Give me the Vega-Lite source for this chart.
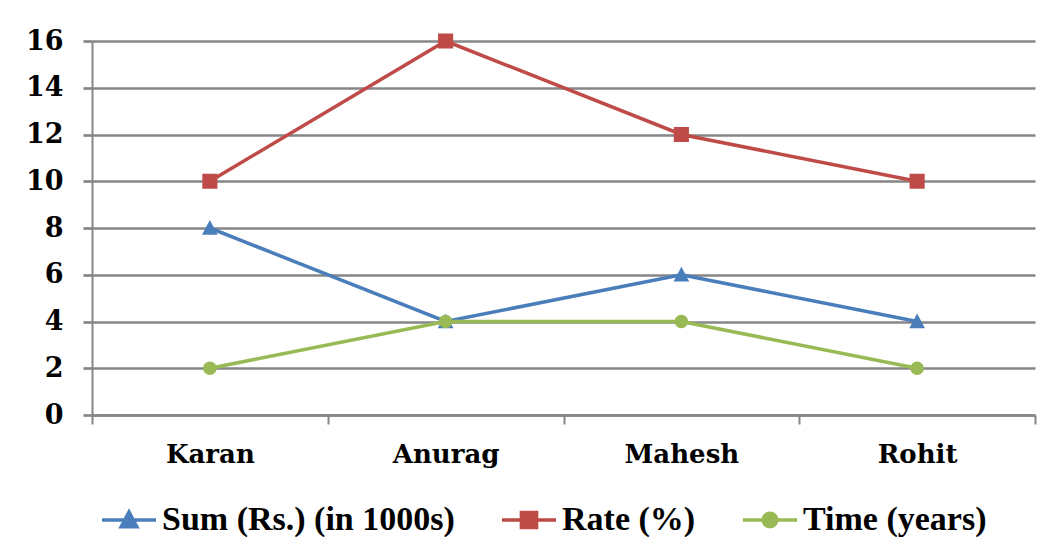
{
  "$schema": "https://vega.github.io/schema/vega-lite/v6.json",
  "width": 943,
  "height": 374,
  "autosize": {"type": "none"},
  "padding": {"left": 92, "top": 41, "right": 15, "bottom": 140},
  "background": "white",
  "config": {"view": {"stroke": null}, "font": "DejaVu Serif"},
  "data": {
    "values": [
      {"name": "Karan", "series": "Sum (Rs.) (in 1000s)", "value": 8},
      {"name": "Anurag", "series": "Sum (Rs.) (in 1000s)", "value": 4},
      {"name": "Mahesh", "series": "Sum (Rs.) (in 1000s)", "value": 6},
      {"name": "Rohit", "series": "Sum (Rs.) (in 1000s)", "value": 4},
      {"name": "Karan", "series": "Rate (%)", "value": 10},
      {"name": "Anurag", "series": "Rate (%)", "value": 16},
      {"name": "Mahesh", "series": "Rate (%)", "value": 12},
      {"name": "Rohit", "series": "Rate (%)", "value": 10},
      {"name": "Karan", "series": "Time (years)", "value": 2},
      {"name": "Anurag", "series": "Time (years)", "value": 4},
      {"name": "Mahesh", "series": "Time (years)", "value": 4},
      {"name": "Rohit", "series": "Time (years)", "value": 2}
    ]
  },
  "encoding": {
    "x": {
      "field": "name",
      "type": "nominal",
      "sort": ["Karan", "Anurag", "Mahesh", "Rohit"],
      "bandPosition": 0.5,
      "scale": {"type": "band", "paddingInner": 0, "paddingOuter": 0},
      "axis": {
        "title": null,
        "labelAngle": 0,
        "tickBand": "extent",
        "grid": false,
        "domainColor": "#868686",
        "domainWidth": 2.7,
        "tickColor": "#868686",
        "tickWidth": 2,
        "tickSize": 9,
        "labelFont": "DejaVu Serif",
        "labelFontWeight": "bold",
        "labelFontSize": 26,
        "labelColor": "black",
        "labelPadding": 17
      }
    },
    "y": {
      "field": "value",
      "type": "quantitative",
      "scale": {"domain": [0, 16], "nice": false},
      "axis": {
        "title": null,
        "values": [0, 2, 4, 6, 8, 10, 12, 14, 16],
        "gridColor": "#868686",
        "gridWidth": 2.7,
        "domainColor": "#868686",
        "domainWidth": 2,
        "tickColor": "#868686",
        "tickWidth": 2.7,
        "tickSize": 9,
        "labelFont": "DejaVu Serif",
        "labelFontSize": 27,
        "labelFontWeight": "bold",
        "labelColor": "black",
        "labelPadding": 20
      }
    },
    "color": {
      "field": "series",
      "type": "nominal",
      "scale": {
        "domain": ["Sum (Rs.) (in 1000s)", "Rate (%)", "Time (years)"],
        "range": ["#4a7ebb", "#be4b48", "#98b954"]
      },
      "legend": {
        "orient": "none",
        "legendX": 8,
        "legendY": 450,
        "direction": "horizontal",
        "title": null,
        "labelFont": "Liberation Serif",
        "labelFontSize": 34,
        "labelFontWeight": "bold",
        "labelColor": "black",
        "labelLimit": 0,
        "columnPadding": 40,
        "labelOffset": 4,
        "symbolSize": 2916,
        "symbolStrokeWidth": 3.5,
        "symbolOpacity": 1,
        "encode": {
          "symbols": {
            "update": {
              "stroke": {"scale": "color", "field": "value"},
              "strokeWidth": {"value": 3.5}
            }
          }
        }
      }
    }
  },
  "layer": [
    {"mark": {"type": "line", "strokeWidth": 3.5}},
    {
      "mark": {"type": "point", "filled": true, "opacity": 1, "size": 2916},
      "encoding": {
        "shape": {
          "field": "series",
          "type": "nominal",
          "scale": {
            "domain": ["Sum (Rs.) (in 1000s)", "Rate (%)", "Time (years)"],
            "range": [
              "M-1,0H1M-0.29,0.25L0,-0.3L0.29,0.25Z",
              "M-1,0H1M-0.28,-0.28H0.28V0.28H-0.28Z",
              "M-1,0H1M-0.25,0A0.25,0.25,0,1,0,0.25,0A0.25,0.25,0,1,0,-0.25,0Z"
            ]
          },
          "legend": null
        }
      }
    }
  ]
}
